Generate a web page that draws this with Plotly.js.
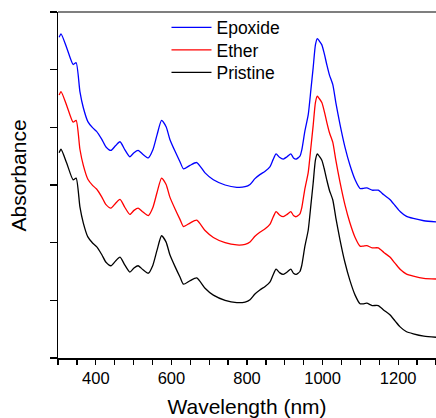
<!DOCTYPE html>
<html>
<head>
<meta charset="utf-8">
<script src="https://cdn.plot.ly/plotly-3.0.1.min.js"></script>
<style>html,body{margin:0;padding:0;background:#fff;}#chart{width:436px;height:418px;}</style>
</head>
<body>
<div id="chart"></div>
<script>
// Wavelength (nm)
const wavelength = [303,308,323,340,348,358,367,379,392,402,416,427,440,452,464,477,490,501,512,525,539,551,562,574,586,596,610,623,632,649,667,689,711,742,773,795,808,821,834,848,861,869,877,886,896,906,916,923,930,940,945,953,962,969,975,981,986,991,998,1004,1011,1018,1027,1035,1046,1059,1072,1086,1099,1107,1117,1131,1147,1162,1178,1192,1205,1221,1240,1268,1300];

const pristine = [3.56,3.62,3.38,3.09,3.12,2.62,2.34,2.10,1.99,1.93,1.79,1.66,1.60,1.68,1.75,1.61,1.49,1.56,1.60,1.53,1.47,1.61,1.87,2.12,2.01,1.79,1.58,1.40,1.28,1.34,1.39,1.21,1.09,1.00,0.96,0.97,1.01,1.11,1.18,1.24,1.32,1.44,1.54,1.48,1.45,1.49,1.54,1.47,1.45,1.50,1.61,1.93,2.22,2.65,3.03,3.43,3.54,3.50,3.43,3.29,3.09,2.91,2.74,2.43,2.05,1.66,1.35,1.09,0.94,0.94,0.95,0.91,0.91,0.83,0.75,0.64,0.54,0.46,0.42,0.38,0.36];

const ether = [4.56,4.62,4.38,4.09,4.12,3.62,3.34,3.10,2.99,2.93,2.79,2.66,2.60,2.68,2.75,2.61,2.49,2.56,2.60,2.53,2.47,2.61,2.87,3.12,3.01,2.79,2.58,2.40,2.28,2.34,2.39,2.21,2.09,2.00,1.96,1.97,2.01,2.11,2.18,2.24,2.32,2.44,2.54,2.48,2.45,2.49,2.54,2.47,2.45,2.50,2.61,2.93,3.22,3.65,4.03,4.43,4.54,4.50,4.43,4.29,4.09,3.91,3.74,3.43,3.05,2.66,2.35,2.09,1.94,1.94,1.95,1.91,1.91,1.83,1.75,1.64,1.54,1.46,1.42,1.38,1.37];

const epoxide = [5.56,5.62,5.38,5.09,5.12,4.62,4.34,4.10,3.99,3.93,3.79,3.66,3.60,3.68,3.75,3.61,3.49,3.56,3.60,3.53,3.47,3.61,3.87,4.12,4.01,3.79,3.58,3.40,3.28,3.34,3.39,3.21,3.09,3.00,2.96,2.97,3.01,3.11,3.18,3.24,3.32,3.44,3.54,3.48,3.45,3.49,3.54,3.47,3.45,3.50,3.61,3.93,4.22,4.65,5.03,5.43,5.54,5.50,5.43,5.29,5.09,4.91,4.74,4.43,4.05,3.66,3.35,3.09,2.94,2.94,2.95,2.91,2.91,2.83,2.75,2.64,2.54,2.46,2.42,2.38,2.36];

const seriesNames = ["Epoxide", "Ether", "Pristine"];
const seriesColors = ["#0000ff", "#ff0000", "#000000"];
const seriesValues = [epoxide, ether, pristine];
const legendIds = ["legend", "legend2", "legend3"];
const legendY = [1.007, 0.942, 0.877];

const FONT = "Arial, 'Liberation Sans', sans-serif";

const traces = seriesValues.map((vals, i) => ({
  x: wavelength,
  y: vals,
  type: "scatter",
  mode: "lines",
  name: seriesNames[i],
  legend: legendIds[i],
  line: {color: seriesColors[i], width: 1.3, shape: "spline", smoothing: 0.6}
}));

const layout = {
  width: 436,
  height: 418,
  margin: {l: 58, r: 0, t: 12, b: 60},
  paper_bgcolor: "#fff",
  plot_bgcolor: "#fff",
  font: {family: FONT, color: "#000", size: 16.5},
  showlegend: true,
  xaxis: {
    range: [300, 1300],
    tick0: 0, dtick: 200,
    ticks: "outside", ticklen: 5, tickwidth: 1.3, tickcolor: "#000",
    minor: {dtick: 50, ticks: "outside", ticklen: 5, tickwidth: 1.3, tickcolor: "#000"},
    showline: true, linecolor: "#000", linewidth: 1.5,
    showgrid: false, zeroline: false,
    tickfont: {family: FONT, size: 16.5, color: "#000"},
    title: {text: "Wavelength (nm)", font: {family: FONT, size: 21, color: "#000"}, standoff: 14}
  },
  yaxis: {
    range: [0, 6],
    tick0: 0, dtick: 1,
    ticks: "outside", ticklen: 7, tickwidth: 1.3, tickcolor: "#000",
    showticklabels: false,
    showline: true, linecolor: "#000", linewidth: 1.5,
    showgrid: false, zeroline: false
  },
  annotations: [{
    text: "Absorbance", textangle: -90,
    xref: "paper", yref: "paper",
    x: -0.1058, y: 0.5275, xanchor: "center", yanchor: "middle",
    showarrow: false,
    font: {family: FONT, size: 21, color: "#000"}
  }],
  shapes: [{
    type: "line", xref: "paper", yref: "paper",
    x0: 0, x1: 1, y0: 1, y1: 1,
    line: {color: "#555", width: 1.5}
  }]
};

legendIds.forEach((id, i) => {
  layout[id] = {
    x: 0.287, y: legendY[i], xanchor: "left", yanchor: "top",
    bgcolor: "rgba(0,0,0,0)", borderwidth: 0,
    font: {family: FONT, size: 17.5, color: "#000"},
    itemwidth: 40
  };
});

Plotly.newPlot("chart", traces, layout, {displayModeBar: false, staticPlot: true});
</script>
</body>
</html>
